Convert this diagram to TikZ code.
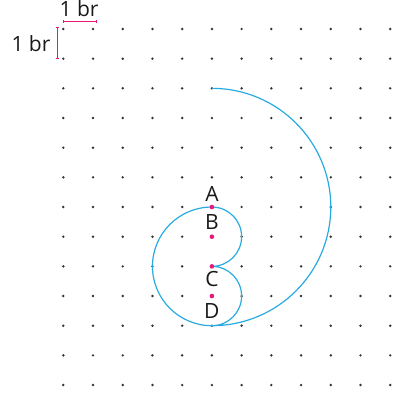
\documentclass[tikz,border=0pt]{standalone}
\usepackage{fontspec}
\setmainfont{Open Sans}
\usetikzlibrary{arrows.meta}
\definecolor{curveblue}{HTML}{29ABE2}
\definecolor{pinkc}{HTML}{E6197A}
\definecolor{dotc}{HTML}{333333}
\tikzset{
  gdot/.style={fill=dotc},
  pdot/.style={fill=pinkc},
  curve/.style={draw=curveblue, line width=1.2pt},
  scalebar/.style={draw=pinkc, line width=0.9pt, {Bar[width=3pt]}-{Bar[width=3pt]}},
  lbl/.style={font=\fontsize{21}{23}\selectfont, anchor=base, inner sep=0pt, text=black!90}
}
\begin{document}
\begin{tikzpicture}[x=29.72pt,y=29.67pt]
\useasboundingbox (-63.3pt,29pt) rectangle (329.7pt,-369pt);
% grid of dots
\foreach \i in {0,...,11}{
  \foreach \j in {0,...,12}{
    \fill[gdot] (\i,-\j) circle (1.35pt);
  }
}
% centres
\coordinate (A) at (5,-6);
\coordinate (B) at (5,-7);
\coordinate (C) at (5,-8);
\coordinate (D) at (5,-9);
\coordinate (T) at (5,-2);
% curve
\draw[curve] (T) arc[start angle=90, end angle=-90, radius=4]
  arc[start angle=-90, end angle=90, radius=1]
  arc[start angle=-90, end angle=90, radius=1]
  arc[start angle=90, end angle=270, radius=2];
% pink centres
\foreach \p in {A,B,C,D}{ \fill[pdot] (\p) circle (2.3pt); }
% labels
\node[lbl] (lA) at ([yshift=5.6pt]A) {A};
\node[lbl] (lB) at ([yshift=6.7pt]B) {B};
\node[lbl] (lC) at ([yshift=-20.3pt]C) {C};
\node[lbl] (lD) at ([yshift=-22.3pt]D) {D};
% scale bars
\coordinate (h1) at (0pt,7.7pt);
\coordinate (h2) at (33.7pt,7.7pt);
\draw[scalebar] (h1) -- (h2);
\coordinate (v1) at (-5.6pt,2pt);
\coordinate (v2) at (-5.6pt,-29.7pt);
\draw[scalebar] (v1) -- (v2);
\node[lbl] (sh) at (15.7pt,12pt) {1 br};
\node[lbl] (sv) at (-32.3pt,-22.5pt) {1 br};
\end{tikzpicture}
\end{document}
